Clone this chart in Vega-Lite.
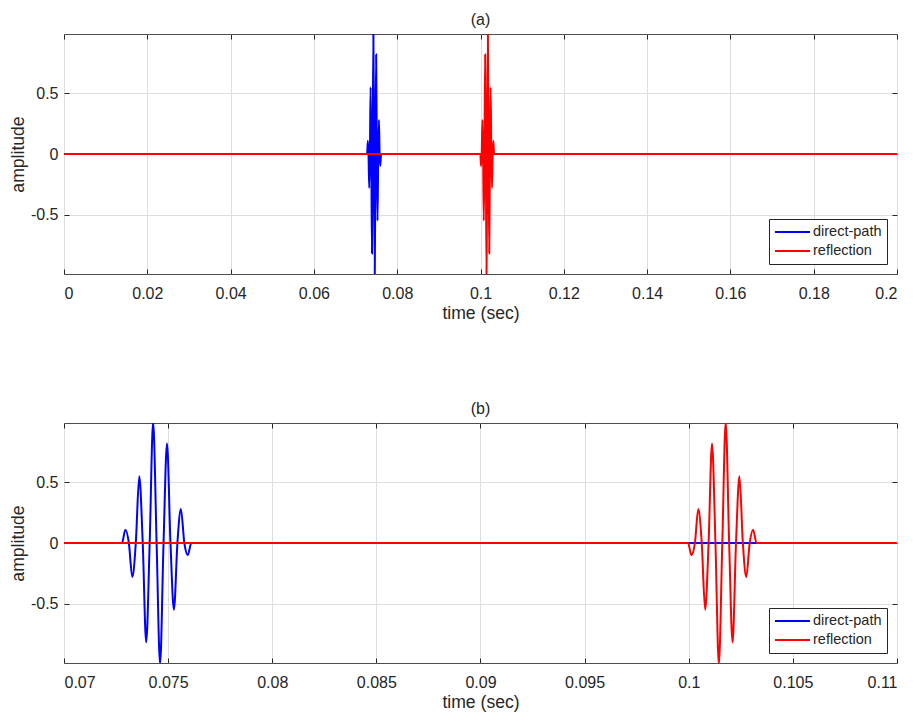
{
  "$schema": "https://vega.github.io/schema/vega-lite/v6.json",
  "padding": {"left": 8, "top": 11, "right": 5, "bottom": 0},
  "background": "white",
  "datasets": {
    "sig": [
      {"t": 0, "v": 0, "s": "direct-path"},
      {"t": 0.072782, "v": 0, "s": "direct-path"},
      {"t": 0.072948, "v": 0.11, "s": "direct-path"},
      {"t": 0.073115, "v": 0, "s": "direct-path"},
      {"t": 0.073281, "v": -0.28, "s": "direct-path"},
      {"t": 0.073448, "v": 0, "s": "direct-path"},
      {"t": 0.073614, "v": 0.55, "s": "direct-path"},
      {"t": 0.073781, "v": 0, "s": "direct-path"},
      {"t": 0.073947, "v": -0.82, "s": "direct-path"},
      {"t": 0.074114, "v": 0, "s": "direct-path"},
      {"t": 0.07428, "v": 1.0, "s": "direct-path"},
      {"t": 0.074447, "v": 0, "s": "direct-path"},
      {"t": 0.074613, "v": -1.0, "s": "direct-path"},
      {"t": 0.07478, "v": 0, "s": "direct-path"},
      {"t": 0.074946, "v": 0.82, "s": "direct-path"},
      {"t": 0.075113, "v": 0, "s": "direct-path"},
      {"t": 0.075279, "v": -0.55, "s": "direct-path"},
      {"t": 0.075446, "v": 0, "s": "direct-path"},
      {"t": 0.075612, "v": 0.28, "s": "direct-path"},
      {"t": 0.075779, "v": 0, "s": "direct-path"},
      {"t": 0.075945, "v": -0.1, "s": "direct-path"},
      {"t": 0.076112, "v": 0, "s": "direct-path"},
      {"t": 0.2, "v": 0, "s": "direct-path"},
      {"t": 0, "v": 0, "s": "reflection"},
      {"t": 0.099966, "v": 0, "s": "reflection"},
      {"t": 0.10013, "v": -0.1, "s": "reflection"},
      {"t": 0.100295, "v": 0, "s": "reflection"},
      {"t": 0.100459, "v": 0.28, "s": "reflection"},
      {"t": 0.100624, "v": 0, "s": "reflection"},
      {"t": 0.100788, "v": -0.55, "s": "reflection"},
      {"t": 0.100953, "v": 0, "s": "reflection"},
      {"t": 0.101117, "v": 0.82, "s": "reflection"},
      {"t": 0.101282, "v": 0, "s": "reflection"},
      {"t": 0.101446, "v": -1.0, "s": "reflection"},
      {"t": 0.101611, "v": 0, "s": "reflection"},
      {"t": 0.101775, "v": 1.0, "s": "reflection"},
      {"t": 0.10194, "v": 0, "s": "reflection"},
      {"t": 0.102104, "v": -0.82, "s": "reflection"},
      {"t": 0.102269, "v": 0, "s": "reflection"},
      {"t": 0.102433, "v": 0.55, "s": "reflection"},
      {"t": 0.102598, "v": 0, "s": "reflection"},
      {"t": 0.102762, "v": -0.28, "s": "reflection"},
      {"t": 0.102927, "v": 0, "s": "reflection"},
      {"t": 0.103091, "v": 0.11, "s": "reflection"},
      {"t": 0.103256, "v": 0, "s": "reflection"},
      {"t": 0.2, "v": 0, "s": "reflection"}
    ]
  },
  "vconcat": [
    {
      "title": {"text": "(a)"},
      "width": 833,
      "height": 240,
      "data": {"name": "sig"},
      "resolve": {"axis": {"x": "independent", "y": "independent"}},
      "layer": [
        {
          "transform": [{"filter": "datum.s === 'direct-path'"}],
          "mark": {"type": "line", "interpolate": "monotone", "strokeWidth": 2, "clip": true},
          "encoding": {
            "x": {"field": "t", "type": "quantitative", "scale": {"domain": [0, 0.2], "nice": false, "zero": false},
              "axis": {"orient": "bottom", "values": [0, 0.02, 0.04, 0.06, 0.08, 0.1, 0.12, 0.14, 0.16, 0.18, 0.2], "format": ".2~f", "title": "time (sec)"}},
            "y": {"field": "v", "type": "quantitative", "scale": {"domain": [-0.99, 0.99], "nice": false},
              "axis": {"orient": "left", "values": [-0.5, 0, 0.5], "title": "amplitude", "labelExpr": "datum.value < 0 ? '-' + format(-datum.value, '~g') : format(datum.value, '~g')"}},
            "color": {"field": "s", "type": "nominal", "scale": {"domain": ["direct-path", "reflection"], "range": ["#0000ff", "#ff0000"]}, "legend": {"title": null}}
          }
        },
        {
          "transform": [{"filter": "datum.s === 'reflection'"}],
          "mark": {"type": "line", "interpolate": "monotone", "strokeWidth": 2, "clip": true},
          "encoding": {
            "x": {"field": "t", "type": "quantitative", "scale": {"domain": [0, 0.2], "nice": false, "zero": false},
              "axis": {"orient": "top", "values": [0, 0.02, 0.04, 0.06, 0.08, 0.1, 0.12, 0.14, 0.16, 0.18, 0.2], "labels": false, "grid": false, "title": null}},
            "y": {"field": "v", "type": "quantitative", "scale": {"domain": [-0.99, 0.99], "nice": false},
              "axis": {"orient": "right", "values": [-0.5, 0, 0.5], "labels": false, "grid": false, "title": null}},
            "color": {"field": "s", "type": "nominal", "scale": {"domain": ["direct-path", "reflection"], "range": ["#0000ff", "#ff0000"]}, "legend": {"title": null}}
          }
        }
      ]
    },
    {
      "title": {"text": "(b)"},
      "width": 833,
      "height": 240,
      "data": {"name": "sig"},
      "resolve": {"axis": {"x": "independent", "y": "independent"}},
      "layer": [
        {
          "transform": [{"filter": "datum.s === 'direct-path'"}],
          "mark": {"type": "line", "interpolate": "monotone", "strokeWidth": 2, "clip": true},
          "encoding": {
            "x": {"field": "t", "type": "quantitative", "scale": {"domain": [0.07, 0.11], "nice": false, "zero": false},
              "axis": {"orient": "bottom", "values": [0.07, 0.075, 0.08, 0.085, 0.09, 0.095, 0.1, 0.105, 0.11], "format": ".3~f", "title": "time (sec)"}},
            "y": {"field": "v", "type": "quantitative", "scale": {"domain": [-0.99, 0.99], "nice": false},
              "axis": {"orient": "left", "values": [-0.5, 0, 0.5], "title": "amplitude", "labelExpr": "datum.value < 0 ? '-' + format(-datum.value, '~g') : format(datum.value, '~g')"}},
            "color": {"field": "s", "type": "nominal", "scale": {"domain": ["direct-path", "reflection"], "range": ["#0000ff", "#ff0000"]}, "legend": {"title": null}}
          }
        },
        {
          "transform": [{"filter": "datum.s === 'reflection'"}],
          "mark": {"type": "line", "interpolate": "monotone", "strokeWidth": 2, "clip": true},
          "encoding": {
            "x": {"field": "t", "type": "quantitative", "scale": {"domain": [0.07, 0.11], "nice": false, "zero": false},
              "axis": {"orient": "top", "values": [0.07, 0.075, 0.08, 0.085, 0.09, 0.095, 0.1, 0.105, 0.11], "labels": false, "grid": false, "title": null}},
            "y": {"field": "v", "type": "quantitative", "scale": {"domain": [-0.99, 0.99], "nice": false},
              "axis": {"orient": "right", "values": [-0.5, 0, 0.5], "labels": false, "grid": false, "title": null}},
            "color": {"field": "s", "type": "nominal", "scale": {"domain": ["direct-path", "reflection"], "range": ["#0000ff", "#ff0000"]}, "legend": {"title": null}}
          }
        }
      ]
    }
  ],
  "resolve": {"legend": {"color": "independent"}},
  "spacing": 77,
  "config": {
    "font": "Liberation Sans",
    "view": {"stroke": "#4d4d4d", "strokeWidth": 1},
    "title": {"font": "Liberation Sans", "fontSize": 16, "fontWeight": "normal", "color": "#262626", "offset": 6, "anchor": "middle"},
    "axis": {
      "labelFont": "Liberation Sans", "labelFontSize": 16, "labelColor": "#262626",
      "titleFont": "Liberation Sans", "titleFontSize": 17.6, "titleFontWeight": "normal", "titleColor": "#262626",
      "domain": false, "tickColor": "#262626", "tickSize": -5, "gridColor": "#dedede", "gridWidth": 1
    },
    "axisX": {"labelPadding": 16, "titlePadding": 3},
    "axisY": {"labelPadding": 11, "titlePadding": 3},
    "legend": {
      "orient": "bottom-right", "offset": 10, "strokeColor": "#262626", "fillColor": "white", "padding": 5,
      "labelFont": "Liberation Sans", "labelFontSize": 14.5, "labelColor": "#262626", "labelOffset": 2,
      "symbolType": "stroke", "symbolSize": 1225, "symbolStrokeWidth": 2, "clipHeight": 16, "rowPadding": 3
    }
  }
}
